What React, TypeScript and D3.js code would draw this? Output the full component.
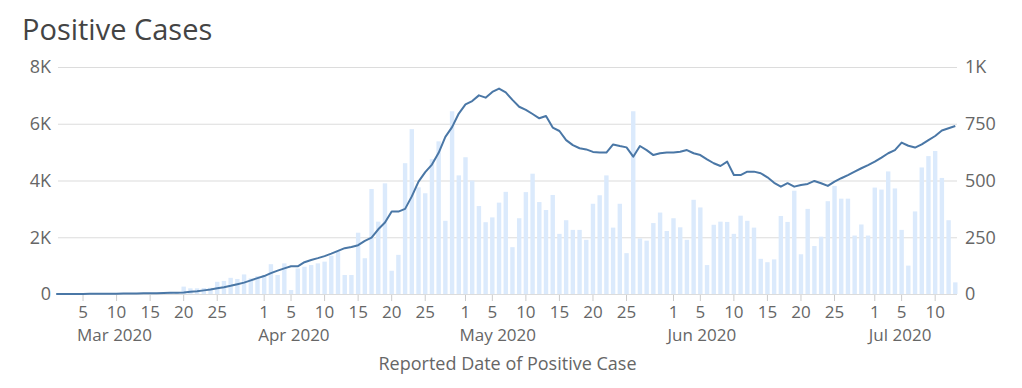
import React, { useEffect, useRef } from "react";
import * as d3 from "d3";

// daily positive cases, Mar 1 - Jul 13 2020 (left axis)
const marCases = [0, 0, 0, 0, 2, 3, 5, 4, 6, 8, 10, 12, 15, 20, 25, 28, 30, 35, 40, 260, 200, 200, 210, 220, 430, 460, 570, 530, 690, 550, 630];
const aprCases = [670, 1050, 670, 1080, 140, 900, 960, 1020, 1080, 1140, 1350, 1500, 670, 670, 2160, 1260, 3700, 2550, 3900, 820, 1380, 4610, 5810, 3760, 3550, 4750, 5380, 2580, 6440, 4180];
const mayCases = [4820, 4000, 3100, 2530, 2700, 3220, 3600, 1650, 2670, 3590, 4240, 3240, 2960, 3490, 2120, 2600, 2260, 2260, 1910, 3180, 3480, 4180, 2340, 3180, 1440, 6440, 1960, 1880, 2500, 2870, 2220];
const junCases = [2670, 2350, 1910, 3320, 3050, 1020, 2440, 2550, 2540, 2120, 2760, 2580, 2340, 1240, 1120, 1220, 2750, 2540, 3640, 1400, 3000, 1690, 2020, 3270, 3810, 3360, 3360, 2060, 2450, 2060];
const julCases = [3750, 3680, 4320, 3720, 2260, 1000, 2910, 4460, 4860, 5040, 4090, 2600, 410];

// rolling line (right axis)
const marAvg = [0, 0, 0, 0, 0, 1, 1, 1, 1, 1, 2, 2, 2, 3, 3, 3, 4, 5, 6, 7, 10, 12, 16, 20, 25, 30, 36, 43, 50, 60, 70];
const aprAvg = [79, 92, 103, 113, 122, 122, 140, 150, 158, 167, 178, 190, 202, 207, 215, 234, 248, 285, 315, 363, 363, 375, 430, 495, 537, 570, 622, 692, 735, 795];
const mayAvg = [835, 850, 875, 865, 890, 905, 888, 855, 825, 811, 793, 774, 784, 733, 718, 678, 656, 642, 637, 626, 623, 623, 659, 652, 646, 605, 652, 634, 612, 620, 623];
const junAvg = [623, 627, 634, 620, 612, 593, 576, 564, 583, 524, 524, 539, 539, 532, 514, 490, 473, 488, 473, 480, 485, 498, 488, 476, 495, 510, 524, 539, 554, 568];
const julAvg = [583, 601, 620, 634, 667, 653, 645, 659, 678, 696, 720, 730, 740];

const startDate = Date.UTC(2020, 2, 1);
// tick days per month (month index, day list)
const tickMonths: [number, number[]][] = [
  [2, [5, 10, 15, 20, 25]],
  [3, [1, 5, 10, 15, 20, 25]],
  [4, [1, 5, 10, 15, 20, 25]],
  [5, [1, 5, 10, 15, 20, 25]],
  [6, [1, 5, 10]],
];
const leftTicks = [0, 2000, 4000, 6000, 8000];
const rightTicks = [0, 250, 500, 750, 1000];

const App: React.FC = () => {
  const svgRef = useRef<SVGSVGElement>(null);
  const width = 1022;
  const height = 388;

  useEffect(() => {
    if (!svgRef.current) return;
    const svg = d3.select(svgRef.current);
    svg.selectAll("*").remove();

    const cases = [...marCases, ...aprCases, ...mayCases, ...junCases, ...julCases];
    const avg = [...marAvg, ...aprAvg, ...mayAvg, ...junAvg, ...julAvg];
    const data = cases.map((c, i) => ({
      date: new Date(startDate + i * 864e5),
      cases: c,
      avg: avg[i],
    }));

    const plotLeft = 58;
    const plotRight = 957;
    const plotTop = 67;
    const plotBottom = 294;
    const fs = 18;
    const tickFs = 17;

    const x = d3
      .scaleUtc()
      .domain([new Date(startDate), new Date(Date.UTC(2020, 6, 13))])
      .range([56.2, 955.3]);
    const y = d3.scaleLinear().domain([0, 8000]).range([plotBottom, plotTop]);
    const y2 = d3.scaleLinear().domain([0, 1000]).range([plotBottom, plotTop]);

    svg.attr("font-family", "'Open Sans', sans-serif");

    // title
    svg
      .append("text")
      .attr("x", 22)
      .attr("y", 40)
      .attr("font-size", 29)
      .attr("fill", "#444")
      .text("Positive Cases");

    // grid
    svg
      .append("g")
      .selectAll("line")
      .data(leftTicks)
      .join("line")
      .attr("x1", plotLeft)
      .attr("x2", plotRight)
      .attr("y1", (d) => y(d) + 0.5)
      .attr("y2", (d) => y(d) + 0.5)
      .attr("stroke", "#dcdcdc")
      .attr("stroke-width", 1.2);

    // left axis labels
    svg
      .append("g")
      .selectAll("text")
      .data(leftTicks)
      .join("text")
      .attr("x", 51)
      .attr("y", (d) => y(d))
      .attr("dy", "0.35em")
      .attr("text-anchor", "end")
      .attr("font-size", fs)
      .attr("fill", "#666")
      .text((d) => (d === 0 ? "0" : d / 1000 + "K"));

    // right axis labels
    svg
      .append("g")
      .selectAll("text")
      .data(rightTicks)
      .join("text")
      .attr("x", 965)
      .attr("y", (d) => y2(d))
      .attr("dy", "0.35em")
      .attr("font-size", fs)
      .attr("fill", "#666")
      .text((d) => (d === 1000 ? "1K" : String(d)));

    // bars
    const bw = 4.4;
    svg
      .append("g")
      .selectAll("rect")
      .data(data)
      .join("rect")
      .attr("x", (d) => x(d.date) - bw / 2)
      .attr("y", (d) => y(d.cases))
      .attr("width", bw)
      .attr("height", (d) => plotBottom - y(d.cases))
      .attr("fill", "#dbeafc");

    // line
    const line = d3
      .line<{ date: Date; avg: number }>()
      .x((d) => x(d.date))
      .y((d) => y2(d.avg));
    svg
      .append("path")
      .datum(data)
      .attr("fill", "none")
      .attr("stroke", "#4a77a6")
      .attr("stroke-width", 2)
      .attr("stroke-linejoin", "round")
      .attr("d", line);

    // x axis: tick marks, day numbers, "Mon YYYY" under the first tick of each month
    const fmt = d3.utcFormat("%b %Y");
    const xg = svg.append("g").attr("font-size", tickFs).attr("fill", "#666");
    tickMonths.forEach(([m, days]) => {
      const dates = days.map((d) => new Date(Date.UTC(2020, m, d)));
      dates.forEach((d) => {
        xg.append("line")
          .attr("x1", x(d))
          .attr("x2", x(d))
          .attr("y1", plotBottom + 1)
          .attr("y2", plotBottom + 7)
          .attr("stroke", "#ccc");
        xg.append("text")
          .attr("x", x(d))
          .attr("y", 317.5)
          .attr("text-anchor", "middle")
          .text(d.getUTCDate());
      });
      xg.append("text")
        .attr("x", x(dates[0]) - 6)
        .attr("y", 341)
        .text(fmt(dates[0]));
    });

    svg
      .append("text")
      .attr("x", (plotLeft + plotRight) / 2)
      .attr("y", 369.5)
      .attr("text-anchor", "middle")
      .attr("font-size", fs)
      .attr("fill", "#666")
      .text("Reported Date of Positive Case");
  }, []);

  return (
    <svg
      ref={svgRef}
      width={width}
      height={height}
      style={{ position: "absolute", left: 0, top: 0, background: "#fff" }}
    />
  );
};

export default App;
